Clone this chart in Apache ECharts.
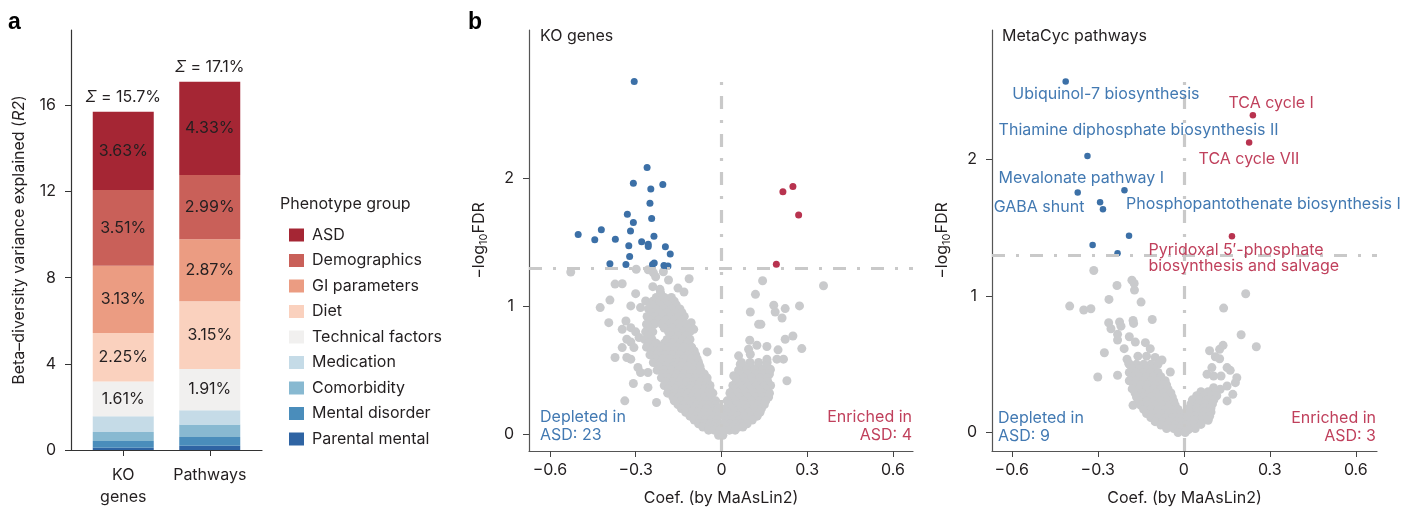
<!DOCTYPE html>
<html>
<head>
<meta charset="utf-8">
<script src="https://cdn.jsdelivr.net/npm/echarts@6/dist/echarts.min.js"></script>
<style>
  html, body { margin: 0; padding: 0; background: #fff; }
  #main { width: 1411px; height: 511px; }
</style>
</head>
<body>
<div id="main"></div>
<script>
// ---- panel a: stacked beta-diversity bars ----
var groups = ['ASD', 'Demographics', 'GI parameters', 'Diet', 'Technical factors',
              'Medication', 'Comorbidity', 'Mental disorder', 'Parental mental'];
var koR2 = [3.63, 3.51, 3.13, 2.25, 1.61, 0.74, 0.41, 0.32, 0.10];
var pathwayR2 = [4.33, 2.99, 2.87, 3.15, 1.91, 0.67, 0.58, 0.40, 0.20];
var barTotals = [15.7, 17.1];
var barCats = ['KO\ngenes', 'Pathways'];
var barTicks = [0, 4, 8, 12, 16];

// ---- panel b: volcano plots ----
var coefTicks = [-0.6, -0.3, 0, 0.3, 0.6];
var fdrTicks = [0, 1, 2];
var fdrCut = 1.301; // -log10(0.05)

var koDepleted = [
  [-0.305, 2.76], [-0.26, 2.088], [-0.308, 1.963], [-0.205, 1.955], [-0.247, 1.919],
  [-0.25, 1.807], [-0.329, 1.721], [-0.244, 1.688], [-0.308, 1.656], [-0.42, 1.599],
  [-0.318, 1.589], [-0.501, 1.563], [-0.236, 1.549], [-0.371, 1.526], [-0.443, 1.521],
  [-0.279, 1.505], [-0.256, 1.487], [-0.324, 1.474], [-0.256, 1.469], [-0.196, 1.466],
  [-0.179, 1.409], [-0.321, 1.391], [-0.39, 1.333], [-0.334, 1.328], [-0.241, 1.328],
  [-0.235, 1.34], [-0.201, 1.32], [-0.187, 1.315]
];
var koEnriched = [[0.215, 1.898], [0.25, 1.938], [0.27, 1.716], [0.192, 1.33]];
var koOther = [
  // scattered
  [-0.527, 1.268], [-0.298, 1.29], [-0.256, 1.286], [-0.238, 1.263], [-0.203, 1.271],
  [-0.23, 1.232], [-0.185, 1.206], [-0.113, 1.216], [-0.372, 1.174], [-0.347, 1.177],
  [-0.24, 1.154], [-0.215, 1.133], [-0.152, 1.143], [0.144, 1.2], [0.357, 1.161],
  [-0.131, 1.112], [-0.3, 1.099], [-0.213, 1.107], [-0.201, 1.068], [0.119, 1.094],
  [-0.39, 1.049], [-0.265, 1.042], [-0.424, 0.99], [-0.317, 1.003], [-0.283, 0.99],
  [0.101, 0.956], [0.183, 1.008], [0.188, 0.956], [0.223, 0.982], [0.273, 1.003],
  [0.212, 0.909], [0.13, 0.859], [0.138, 0.859], [-0.394, 0.872], [-0.334, 0.885],
  [-0.106, 0.872], [-0.097, 0.82], [-0.347, 0.82], [-0.317, 0.833], [-0.3, 0.8],
  [-0.331, 0.742], [-0.317, 0.721], [-0.288, 0.755], [0.099, 0.734], [0.223, 0.742],
  [0.25, 0.768], [0.124, 0.695], [0.159, 0.685], [0.198, 0.659], [0.281, 0.669],
  [-0.347, 0.677], [-0.306, 0.677], [-0.05, 0.643], [0.095, 0.664], [0.101, 0.625],
  [0.06, 0.612], [0.066, 0.547], [-0.372, 0.599], [-0.331, 0.599], [-0.317, 0.586],
  [0.194, 0.586], [0.217, 0.586], [0.229, 0.417], [0.159, 0.586], [0.171, 0.508],
  [-0.292, 0.521], [-0.283, 0.482], [-0.257, 0.482], [-0.308, 0.396], [-0.257, 0.365],
  [-0.338, 0.26], [-0.227, 0.247], [0.043, 0.456], [0.031, 0.326],
  // dense left arm
  [-0.228, 1.07], [-0.2, 1.07], [-0.175, 1.07],
  [-0.24, 1.04], [-0.215, 1.04], [-0.19, 1.04], [-0.165, 1.04],
  [-0.242, 1.01], [-0.214, 1.01], [-0.186, 1.01], [-0.158, 1.01],
  [-0.255, 0.98], [-0.228, 0.98], [-0.2, 0.98], [-0.172, 0.98], [-0.145, 0.98],
  [-0.245, 0.95], [-0.218, 0.95], [-0.19, 0.95], [-0.162, 0.95], [-0.138, 0.95],
  [-0.26, 0.92], [-0.232, 0.92], [-0.205, 0.92], [-0.178, 0.92], [-0.15, 0.92], [-0.13, 0.92],
  [-0.248, 0.89], [-0.22, 0.89], [-0.193, 0.89], [-0.166, 0.89], [-0.14, 0.89],
  [-0.262, 0.86], [-0.235, 0.86], [-0.208, 0.86], [-0.18, 0.86], [-0.152, 0.86], [-0.125, 0.86],
  [-0.252, 0.83], [-0.2, 0.83], [-0.172, 0.83], [-0.145, 0.83], [-0.12, 0.83],
  [-0.265, 0.8], [-0.24, 0.8], [-0.185, 0.8], [-0.158, 0.8], [-0.13, 0.8], [-0.11, 0.8],
  [-0.255, 0.77], [-0.176, 0.77], [-0.15, 0.77], [-0.123, 0.77],
  [-0.268, 0.74], [-0.243, 0.74], [-0.19, 0.74], [-0.163, 0.74], [-0.136, 0.74], [-0.11, 0.74],
  [-0.255, 0.71], [-0.228, 0.71], [-0.2, 0.71], [-0.172, 0.71], [-0.145, 0.71], [-0.118, 0.71],
  [-0.262, 0.68], [-0.236, 0.68], [-0.21, 0.68], [-0.183, 0.68], [-0.156, 0.68], [-0.13, 0.68], [-0.104, 0.68],
  [-0.245, 0.65], [-0.218, 0.65], [-0.19, 0.65], [-0.164, 0.65], [-0.138, 0.65], [-0.11, 0.65], [-0.095, 0.65],
  [-0.25, 0.62], [-0.225, 0.62], [-0.198, 0.62], [-0.172, 0.62], [-0.145, 0.62], [-0.118, 0.62], [-0.09, 0.62],
  [-0.232, 0.59], [-0.205, 0.59], [-0.18, 0.59], [-0.155, 0.59], [-0.13, 0.59], [-0.104, 0.59], [-0.085, 0.59],
  [-0.238, 0.56], [-0.212, 0.56], [-0.186, 0.56], [-0.16, 0.56], [-0.134, 0.56], [-0.108, 0.56], [-0.08, 0.56],
  [-0.22, 0.53], [-0.194, 0.53], [-0.168, 0.53], [-0.142, 0.53], [-0.116, 0.53], [-0.09, 0.53], [-0.075, 0.53],
  [-0.225, 0.5], [-0.2, 0.5], [-0.175, 0.5], [-0.15, 0.5], [-0.125, 0.5], [-0.1, 0.5], [-0.072, 0.5],
  [-0.205, 0.47], [-0.18, 0.47], [-0.156, 0.47], [-0.132, 0.47], [-0.108, 0.47], [-0.084, 0.47], [-0.06, 0.47],
  [-0.21, 0.44], [-0.186, 0.44], [-0.162, 0.44], [-0.138, 0.44], [-0.114, 0.44], [-0.09, 0.44], [-0.066, 0.44], [-0.05, 0.44],
  [-0.194, 0.41], [-0.17, 0.41], [-0.146, 0.41], [-0.122, 0.41], [-0.098, 0.41], [-0.074, 0.41], [-0.05, 0.41],
  [-0.2, 0.38], [-0.176, 0.38], [-0.152, 0.38], [-0.128, 0.38], [-0.104, 0.38], [-0.08, 0.38], [-0.056, 0.38], [-0.04, 0.38],
  [-0.185, 0.35], [-0.16, 0.35], [-0.136, 0.35], [-0.112, 0.35], [-0.088, 0.35], [-0.064, 0.35], [-0.04, 0.35],
  [-0.188, 0.32], [-0.164, 0.32], [-0.14, 0.32], [-0.116, 0.32], [-0.092, 0.32], [-0.068, 0.32], [-0.044, 0.32], [-0.03, 0.32],
  [-0.17, 0.29], [-0.148, 0.29], [-0.126, 0.29], [-0.104, 0.29], [-0.082, 0.29], [-0.06, 0.29], [-0.038, 0.29],
  [-0.165, 0.26], [-0.142, 0.26], [-0.12, 0.26], [-0.098, 0.26], [-0.076, 0.26], [-0.054, 0.26], [-0.032, 0.26], [-0.02, 0.26],
  [-0.152, 0.23], [-0.13, 0.23], [-0.108, 0.23], [-0.086, 0.23], [-0.064, 0.23], [-0.042, 0.23], [-0.02, 0.23],
  [-0.14, 0.2], [-0.118, 0.2], [-0.096, 0.2], [-0.074, 0.2], [-0.052, 0.2], [-0.03, 0.2], [-0.012, 0.2],
  [-0.125, 0.17], [-0.103, 0.17], [-0.081, 0.17], [-0.059, 0.17], [-0.037, 0.17], [-0.017, 0.17],
  [-0.11, 0.14], [-0.09, 0.14], [-0.07, 0.14], [-0.05, 0.14], [-0.03, 0.14], [-0.01, 0.14],
  [-0.095, 0.11], [-0.075, 0.11], [-0.055, 0.11], [-0.035, 0.11], [-0.015, 0.11],
  [-0.08, 0.08], [-0.06, 0.08], [-0.04, 0.08], [-0.02, 0.08], [0, 0.08],
  [-0.065, 0.055], [-0.045, 0.055], [-0.025, 0.055], [-0.005, 0.055], [0.01, 0.055],
  [-0.045, 0.03], [-0.025, 0.03], [-0.005, 0.03], [-0.01, -0.01], [0.005, -0.01],
  // dense right arm
  [0.07, 0.56], [0.1, 0.56], [0.13, 0.56], [0.16, 0.56],
  [0.074, 0.53], [0.102, 0.53], [0.13, 0.53], [0.158, 0.53],
  [0.06, 0.5], [0.088, 0.5], [0.116, 0.5], [0.144, 0.5], [0.17, 0.5],
  [0.062, 0.47], [0.09, 0.47], [0.118, 0.47], [0.146, 0.47], [0.168, 0.47],
  [0.05, 0.44], [0.078, 0.44], [0.106, 0.44], [0.134, 0.44], [0.16, 0.44],
  [0.052, 0.41], [0.08, 0.41], [0.108, 0.41], [0.136, 0.41], [0.162, 0.41],
  [0.04, 0.38], [0.068, 0.38], [0.096, 0.38], [0.124, 0.38], [0.152, 0.38], [0.172, 0.38],
  [0.044, 0.35], [0.072, 0.35], [0.1, 0.35], [0.128, 0.35], [0.156, 0.35],
  [0.03, 0.32], [0.058, 0.32], [0.086, 0.32], [0.114, 0.32], [0.142, 0.32], [0.168, 0.32],
  [0.034, 0.29], [0.062, 0.29], [0.09, 0.29], [0.118, 0.29], [0.146, 0.29], [0.165, 0.29],
  [0.02, 0.26], [0.048, 0.26], [0.076, 0.26], [0.104, 0.26], [0.132, 0.26], [0.155, 0.26],
  [0.025, 0.23], [0.052, 0.23], [0.078, 0.23], [0.104, 0.23], [0.13, 0.23], [0.15, 0.23],
  [0.015, 0.2], [0.04, 0.2], [0.065, 0.2], [0.09, 0.2], [0.115, 0.2], [0.14, 0.2],
  [0.022, 0.17], [0.046, 0.17], [0.07, 0.17], [0.094, 0.17], [0.118, 0.17], [0.135, 0.17],
  [0.012, 0.14], [0.035, 0.14], [0.058, 0.14], [0.081, 0.14], [0.104, 0.14], [0.125, 0.14],
  [0.02, 0.11], [0.042, 0.11], [0.064, 0.11], [0.086, 0.11], [0.108, 0.11],
  [0.01, 0.08], [0.03, 0.08], [0.05, 0.08], [0.07, 0.08], [0.09, 0.08],
  [0.018, 0.055], [0.04, 0.055], [0.06, 0.055], [0.075, 0.055],
  [0.008, 0.03], [0.028, 0.03], [0.048, 0.03]
];

var metaDepleted = [
  [-0.412, 2.572], [-0.336, 2.026], [-0.37, 1.76], [-0.207, 1.775], [-0.292, 1.687],
  [-0.282, 1.636], [-0.191, 1.443], [-0.318, 1.375], [-0.231, 1.314]
];
var metaEnriched = [[0.241, 2.326], [0.228, 2.126], [0.168, 1.438]];
var metaOther = [
  [-0.314, 1.188], [-0.233, 1.078], [-0.181, 1.117], [-0.173, 1.093], [-0.172, 1.044],
  [-0.398, 0.927], [-0.349, 0.898], [-0.324, 0.907], [-0.261, 0.976], [-0.149, 0.956],
  [-0.262, 0.805], [-0.254, 0.761], [-0.224, 0.81], [-0.219, 0.78], [-0.177, 0.822],
  [-0.175, 0.8], [-0.11, 0.829], [-0.231, 0.72], [-0.231, 0.678], [-0.19, 0.702],
  [-0.169, 0.663], [-0.134, 0.659], [-0.277, 0.585], [-0.208, 0.615], [-0.117, 0.615],
  [-0.3, 0.407], [-0.231, 0.42], [-0.198, 0.537], [-0.192, 0.507], [-0.177, 0.2],
  [-0.047, 0.444], [-0.076, 0.532], [-0.1, 0.55],
  [0.216, 1.017], [0.139, 0.912], [0.2, 0.717], [0.253, 0.629], [0.09, 0.6],
  [0.125, 0.61], [0.137, 0.639], [0.11, 0.556], [0.125, 0.541], [0.151, 0.476],
  [0.162, 0.456], [0.098, 0.476], [0.081, 0.427], [0.104, 0.415], [0.13, 0.415],
  [0.185, 0.402], [0.18, 0.366], [0.151, 0.341], [0.171, 0.28], [0.151, 0.232],
  [0.104, 0.329], [0.127, 0.317],
  // dense left arm
  [-0.16, 0.56], [-0.13, 0.56],
  [-0.19, 0.5], [-0.165, 0.5], [-0.14, 0.5], [-0.115, 0.5], [-0.09, 0.5],
  [-0.18, 0.47], [-0.155, 0.47], [-0.13, 0.47], [-0.105, 0.47],
  [-0.19, 0.44], [-0.165, 0.44], [-0.14, 0.44], [-0.115, 0.44], [-0.09, 0.44],
  [-0.18, 0.41], [-0.155, 0.41], [-0.13, 0.41], [-0.105, 0.41], [-0.08, 0.41],
  [-0.19, 0.38], [-0.165, 0.38], [-0.14, 0.38], [-0.115, 0.38], [-0.09, 0.38], [-0.065, 0.38],
  [-0.175, 0.35], [-0.15, 0.35], [-0.125, 0.35], [-0.1, 0.35], [-0.075, 0.35], [-0.06, 0.35],
  [-0.18, 0.32], [-0.155, 0.32], [-0.13, 0.32], [-0.105, 0.32], [-0.08, 0.32], [-0.055, 0.32],
  [-0.17, 0.29], [-0.145, 0.29], [-0.12, 0.29], [-0.095, 0.29], [-0.07, 0.29], [-0.045, 0.29],
  [-0.165, 0.26], [-0.14, 0.26], [-0.115, 0.26], [-0.09, 0.26], [-0.065, 0.26], [-0.04, 0.26],
  [-0.155, 0.23], [-0.13, 0.23], [-0.105, 0.23], [-0.08, 0.23], [-0.055, 0.23], [-0.035, 0.23],
  [-0.15, 0.2], [-0.125, 0.2], [-0.1, 0.2], [-0.075, 0.2], [-0.05, 0.2], [-0.03, 0.2],
  [-0.14, 0.17], [-0.115, 0.17], [-0.09, 0.17], [-0.065, 0.17], [-0.04, 0.17], [-0.02, 0.17],
  [-0.13, 0.14], [-0.105, 0.14], [-0.08, 0.14], [-0.055, 0.14], [-0.03, 0.14], [-0.01, 0.14],
  [-0.115, 0.11], [-0.09, 0.11], [-0.065, 0.11], [-0.04, 0.11], [-0.015, 0.11],
  [-0.1, 0.08], [-0.075, 0.08], [-0.05, 0.08], [-0.025, 0.08], [0, 0.08],
  [-0.08, 0.055], [-0.055, 0.055], [-0.03, 0.055], [-0.005, 0.055], [0.01, 0.055],
  [-0.06, 0.03], [-0.035, 0.03], [-0.01, 0.03], [-0.02, 0], [0.005, 0],
  // dense right arm
  [0.06, 0.3], [0.085, 0.3], [0.11, 0.3],
  [0.045, 0.27], [0.07, 0.27], [0.095, 0.27], [0.115, 0.27],
  [0.03, 0.24], [0.055, 0.24], [0.08, 0.24], [0.105, 0.24],
  [0.025, 0.21], [0.05, 0.21], [0.075, 0.21], [0.1, 0.21],
  [0.02, 0.18], [0.045, 0.18], [0.07, 0.18], [0.095, 0.18],
  [0.02, 0.15], [0.045, 0.15], [0.07, 0.15], [0.095, 0.15],
  [0.015, 0.12], [0.04, 0.12], [0.065, 0.12], [0.09, 0.12],
  [0.015, 0.09], [0.04, 0.09], [0.065, 0.09], [0.085, 0.09],
  [0.01, 0.06], [0.035, 0.06], [0.06, 0.06],
  [0.02, 0.03], [0.04, 0.03], [0.015, 0.02]
];
// pathway names: [coef, -log10FDR anchor of text, text, direction]
var metaLabels = [
  [-0.598, 2.48, 'Ubiquinol-7 biosynthesis', 'down'],
  [-0.646, 2.219, 'Thiamine diphosphate biosynthesis II', 'down'],
  [-0.646, 1.865, 'Mevalonate pathway I', 'down'],
  [-0.663, 1.65, 'GABA shunt', 'down'],
  [-0.2016, 1.67, 'Phosphopantothenate biosynthesis I', 'down'],
  [0.156, 2.414, 'TCA cycle I', 'up'],
  [0.0516, 2.004, 'TCA cycle VII', 'up'],
  [-0.123, 1.277, "Pyridoxal 5\u2032-phosphate\nbiosynthesis and salvage", 'up']
];

var FONT = 'Inter, Roboto, sans-serif';
var FS = 16;
var TXT = '#231f20';
var groupColors = ['#a52634', '#c96059', '#eb9c82', '#fad1be', '#f1f0ef',
                   '#c5dbe7', '#88b9d1', '#4a8dbb', '#2f64a3'];
var BLUE = '#3c70a7', RED = '#b8334f', GREY = '#c9cacc';
var BLUE_TXT = '#4279b2', RED_TXT = '#c0405c';

function fmtCoef(v) {
  if (Math.abs(v) < 1e-9) return '0';
  return v.toFixed(1).replace('-', '\u2212');
}

var myChart = echarts.init(document.getElementById('main'));

var barSeries = [];
for (var i = groups.length - 1; i >= 0; i--) {
  barSeries.push({
    type: 'bar',
    name: groups[i],
    stack: 'r2',
    xAxisIndex: 0, yAxisIndex: 0,
    barWidth: 61,
    itemStyle: { color: groupColors[i] },
    label: {
      show: i < 5,
      position: 'inside',
      fontFamily: FONT, fontSize: FS, color: TXT, textBorderWidth: 0,
      formatter: function (p) { return p.value.toFixed(2) + '%'; }
    },
    data: [koR2[i], pathwayR2[i]]
  });
}

function coefAxis(idx, min, max) {
  return {
    type: 'value', gridIndex: idx, min: min, max: max,
    name: 'Coef. (by MaAsLin2)', nameLocation: 'middle', nameGap: 39,
    nameTextStyle: { fontFamily: FONT, fontSize: FS, color: TXT },
    axisLine: { onZero: false, lineStyle: { color: '#555', width: 1.2 } },
    axisTick: { length: 6, customValues: coefTicks, lineStyle: { color: '#444' } },
    axisLabel: { customValues: coefTicks, formatter: fmtCoef, margin: 11,
                 fontFamily: FONT, fontSize: FS, color: TXT },
    splitLine: { show: false }
  };
}

function fdrAxis(idx, min, max) {
  return {
    type: 'value', gridIndex: idx, min: min, max: max,
    name: '{n|\u2212log}{s|10}{n|FDR}', nameLocation: 'middle', nameGap: 40,
    nameTextStyle: {
      rich: {
        n: { fontFamily: FONT, fontSize: FS, color: TXT, lineHeight: 19 },
        s: { fontFamily: FONT, fontSize: 11, color: TXT, verticalAlign: 'bottom', lineHeight: 12 }
      }
    },
    axisLine: { onZero: false, lineStyle: { color: '#555', width: 1.2 } },
    axisTick: { length: 6, customValues: fdrTicks, lineStyle: { color: '#444' } },
    axisLabel: { customValues: fdrTicks, margin: 15, fontFamily: FONT, fontSize: FS, color: TXT },
    splitLine: { show: false }
  };
}

function guideSeries(idx, xmin, xmax, ymin, ytop) {
  return {
    type: 'scatter', xAxisIndex: idx, yAxisIndex: idx, z: 1, data: [],
    markLine: {
      silent: true, symbol: 'none', animation: false,
      label: { show: false },
      lineStyle: { color: '#c9c9c9', width: 3.2, type: [13, 11, 3, 11] },
      data: [
        [{ coord: [0, ymin] }, { coord: [0, ytop] }],
        [{ coord: [xmin, fdrCut] }, { coord: [xmax, fdrCut] }]
      ]
    }
  };
}

function dots(idx, data, color, size, z) {
  return {
    type: 'scatter', xAxisIndex: idx, yAxisIndex: idx, z: z,
    symbolSize: size, itemStyle: { color: color, opacity: 1 },
    data: data
  };
}

function cornerText(x, y, text, color, align) {
  return {
    type: 'text', x: x, y: y,
    style: { text: text, font: FS + 'px ' + FONT, fill: color, lineHeight: 18,
             align: align, verticalAlign: 'middle' }
  };
}

function plainText(left, top, text) {
  return { type: 'text', left: left, top: top, style: { text: text, font: FS + 'px ' + FONT, fill: TXT } };
}

myChart.setOption({
  animation: false,
  backgroundColor: '#fff',
  textStyle: { fontFamily: FONT },
  grid: [
    { left: 80, top: 30, width: 173, height: 420 },   // bars
    { left: 529, top: 30, width: 384, height: 421 },
    { left: 992, top: 30, width: 385, height: 422 },
    { left: 71, top: 30, width: 191, height: 420 }    // frame of panel a
  ],
  legend: {
    data: groups, orient: 'vertical', left: 284, top: 222,
    itemWidth: 15, itemHeight: 13, itemGap: 9.5, icon: 'rect',
    selectedMode: false,
    textStyle: { fontFamily: FONT, fontSize: FS, color: TXT, padding: [0, 0, 0, 3] }
  },
  xAxis: [
    {
      type: 'category', gridIndex: 0, data: barCats,
      axisLine: { show: false },
      axisTick: { show: true, alignWithLabel: true, length: 6, lineStyle: { color: '#333' } },
      axisLabel: { interval: 0, margin: 14, lineHeight: 22, fontFamily: FONT, fontSize: FS, color: TXT },
      splitLine: { show: false }
    },
    coefAxis(1, -0.673, 0.67),
    coefAxis(2, -0.669, 0.674),
    {
      type: 'value', gridIndex: 3, min: 0, max: 1,
      axisLine: { show: true, onZero: false, lineStyle: { color: '#333', width: 1.2 } },
      axisTick: { show: false }, axisLabel: { show: false }, splitLine: { show: false }
    }
  ],
  yAxis: [
    {
      type: 'value', gridIndex: 0, min: 0, max: 19.5, show: false
    },
    fdrAxis(1, -0.133, 3.164),
    fdrAxis(2, -0.135, 2.95),
    {
      type: 'value', gridIndex: 3, min: 0, max: 19.5,
      name: '{n|Beta\u2013diversity variance explained (}{i|R2}{n|)}',
      nameLocation: 'middle', nameGap: 44,
      nameTextStyle: {
        rich: {
          n: { fontFamily: FONT, fontSize: FS, color: TXT },
          i: { fontFamily: FONT, fontSize: FS, color: TXT, fontStyle: 'italic' }
        }
      },
      axisLine: { show: true, onZero: false, lineStyle: { color: '#333', width: 1.2 } },
      axisTick: { show: true, length: 6, customValues: barTicks, lineStyle: { color: '#333' } },
      axisLabel: { customValues: barTicks, margin: 15, fontFamily: FONT, fontSize: FS, color: TXT },
      splitLine: { show: false }
    }
  ],
  graphic: [
    { type: 'text', left: 8, top: 11, style: { text: 'a', font: 'bold 23px "Liberation Sans", Arial, sans-serif', fill: '#000' } },
    { type: 'text', left: 468, top: 11, style: { text: 'b', font: 'bold 23px "Liberation Sans", Arial, sans-serif', fill: '#000' } },
    plainText(540, 28, 'KO genes'),
    plainText(1002, 28, 'MetaCyc pathways'),
    plainText(280, 196, 'Phenotype group'),
    cornerText(540, 426, 'Depleted in\nASD: 23', BLUE_TXT, 'left'),
    cornerText(912, 426, 'Enriched in\nASD: 4', RED_TXT, 'right'),
    cornerText(998, 427, 'Depleted in\nASD: 9', BLUE_TXT, 'left'),
    cornerText(1376, 427, 'Enriched in\nASD: 3', RED_TXT, 'right')
  ],
  series: barSeries.concat([
    {
      type: 'scatter', xAxisIndex: 0, yAxisIndex: 0, symbolSize: 0, z: 5,
      itemStyle: { opacity: 1 },
      data: barTotals,
      label: {
        show: true, position: 'top', distance: 7, textBorderWidth: 0,
        fontFamily: FONT, fontSize: FS, color: TXT,
        formatter: function (p) { return '{i|\u03a3} = ' + p.value.toFixed(1) + '%'; },
        rich: { i: { fontFamily: FONT, fontSize: FS, color: TXT, fontStyle: 'italic' } }
      }
    },
    guideSeries(1, -0.673, 0.67, -0.133, 2.83),
    dots(1, koOther, GREY, 9, 2),
    dots(1, koDepleted, BLUE, 7, 3),
    dots(1, koEnriched, RED, 7, 3),
    guideSeries(2, -0.669, 0.674, -0.135, 2.63),
    dots(2, metaOther, GREY, 9, 2),
    dots(2, metaDepleted, BLUE, 6.5, 3),
    dots(2, metaEnriched, RED, 6.5, 3),
    {
      type: 'scatter', xAxisIndex: 2, yAxisIndex: 2, symbolSize: 0, z: 6,
      itemStyle: { opacity: 1 },
      data: metaLabels.map(function (t) {
        return {
          value: [t[0], t[1]],
          label: { formatter: t[2], color: t[3] === 'up' ? RED_TXT : BLUE_TXT }
        };
      }),
      label: {
        show: true, position: [0, 0], align: 'left', verticalAlign: 'middle',
        fontFamily: FONT, fontSize: FS, lineHeight: 16, textBorderWidth: 0
      }
    }
  ])
});
</script>
</body>
</html>
